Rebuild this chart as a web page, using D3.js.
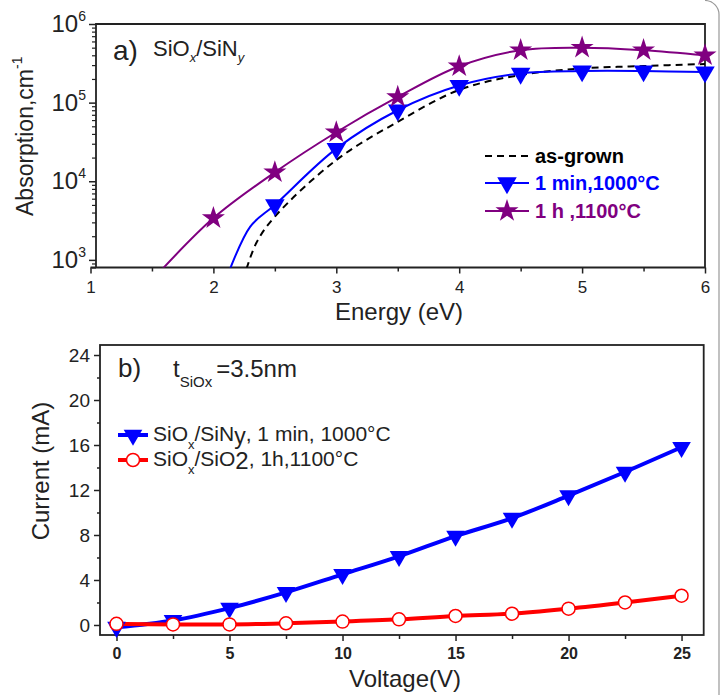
<!DOCTYPE html>
<html>
<head>
<meta charset="utf-8">
<script src="https://cdn.jsdelivr.net/npm/d3@7"></script>
<style>
  body { margin: 0; background: #fff; }
  svg { display: block; font-family: "Liberation Sans", Arial, sans-serif; }
</style>
</head>
<body>
<svg id="chart" width="724" height="695"></svg>
<script>
// ---- panel a: absorption vs energy (log scale) ----
const markerEnergy = [2, 2.5, 3, 3.5, 4, 4.5, 5, 5.5, 6];
const starAbs = [3400, 13000, 42000, 118000, 290000, 465000, 500000, 465000, 400000];
const triEnergy = [2.5, 3, 3.5, 4, 4.5, 5, 5.5, 6];
const triAbs = [5000, 26000, 80000, 165000, 235000, 252000, 252000, 245000];

// fitted curves (extend below the axis floor, clipped)
const purpleCurveE = [1.5, 2, 2.5, 3, 3.5, 4, 4.5, 5, 5.5, 6];
const purpleCurveA = [550, 3400, 13000, 42000, 118000, 290000, 465000, 500000, 465000, 400000];
const blueCurveE = [2.1, 2.3, 2.5, 3, 3.5, 4, 4.5, 5, 5.5, 6];
const blueCurveA = [550, 2650, 5000, 26000, 80000, 165000, 235000, 252000, 252000, 245000];
const blackCurveE = [2.24, 2.35, 2.5, 3, 3.5, 4, 4.5, 5, 5.5, 6];
const blackCurveA = [550, 1650, 3550, 18600, 57000, 145000, 225000, 272000, 292000, 310000];

const energyTicks = [1, 2, 3, 4, 5, 6];
const absDecades = [3, 4, 5, 6];

// ---- panel b: current vs voltage ----
const voltage = [0, 2.5, 5, 7.5, 10, 12.5, 15, 17.5, 20, 22.5, 25];
const currentSiN = [-0.2, 0.4, 1.5, 2.9, 4.5, 6.1, 7.9, 9.5, 11.5, 13.6, 15.8];
const currentSiO2 = [0.1, 0.05, 0.05, 0.15, 0.3, 0.5, 0.8, 1.0, 1.45, 2.0, 2.6];
const voltTicks = [0, 5, 10, 15, 20, 25];
const currentTicks = [0, 4, 8, 12, 16, 20, 24];

const svg = d3.select('#chart');
const ink = '#222';
const purple = '#800080';
const blue = '#0000ff';
const red = '#ff0000';

// outer frame corner on the right
svg.append('path')
  .attr('d', 'M705,0.5 A14,14 0 0 1 719,14.5 V695')
  .attr('fill', 'none')
  .attr('stroke', '#999')
  .attr('stroke-width', 1.2);

// ================= Panel a =================
const ax = d3.scaleLinear().domain([1, 6]).range([90.5, 705]);
const ay = d3.scaleLog().domain([800, 1e6]).range([267.5, 24]);
const aLeft = 96;

svg.append('clipPath').attr('id', 'clipA')
  .append('rect').attr('x', aLeft).attr('y', 24).attr('width', 705 - aLeft).attr('height', 267.5 - 24);

const gA = svg.append('g');

// minor x ticks
gA.append('g')
  .attr('transform', 'translate(0,267.5)')
  .call(d3.axisBottom(ax).tickValues(d3.range(1.5, 6, 1)).tickSize(4).tickFormat(''))
  .call(g => g.select('.domain').remove())
  .call(g => g.selectAll('line').attr('stroke', ink).attr('stroke-width', 1.5));
// major x ticks
gA.append('g')
  .attr('transform', 'translate(0,267.5)')
  .call(d3.axisBottom(ax).tickValues(energyTicks).tickSize(6).tickPadding(7).tickFormat(d3.format('d')))
  .call(g => g.select('.domain').remove())
  .call(g => g.selectAll('line').attr('stroke', ink).attr('stroke-width', 1.5))
  .call(g => g.selectAll('text').attr('font-size', 17).attr('fill', ink).attr('font-family', 'Liberation Sans'));

// y minor ticks
const minorA = ay.ticks().filter(v => Math.abs(Math.log10(v) - Math.round(Math.log10(v))) > 1e-6);
gA.append('g')
  .attr('transform', `translate(${aLeft},0)`)
  .call(d3.axisLeft(ay).tickValues(minorA).tickSize(4).tickFormat(''))
  .call(g => g.select('.domain').remove())
  .call(g => g.selectAll('line').attr('stroke', ink).attr('stroke-width', 1.2));
gA.append('g')
  .attr('transform', `translate(${aLeft},0)`)
  .call(d3.axisLeft(ay).tickValues(absDecades.map(p => Math.pow(10, p))).tickSize(7).tickFormat(''))
  .call(g => g.select('.domain').remove())
  .call(g => g.selectAll('line').attr('stroke', ink).attr('stroke-width', 1.5));

// 10^n labels
absDecades.forEach(p => {
  const t = gA.append('text')
    .attr('x', 86)
    .attr('y', ay(Math.pow(10, p)) + 8)
    .attr('text-anchor', 'end')
    .attr('font-size', 24)
    .attr('fill', ink);
  t.append('tspan').text('10');
  t.append('tspan').attr('font-size', 14).attr('dy', -11).text(p);
});

// frame
gA.append('path')
  .attr('d', `M${ax.range()[0]},267.5 H705 V24 H${aLeft} V267.5`)
  .attr('fill', 'none')
  .attr('stroke', ink)
  .attr('stroke-width', 1.8);

// curves
const lineA = d3.line().curve(d3.curveCatmullRom.alpha(0.5)).x(d => ax(d[0])).y(d => ay(d[1]));
const curves = gA.append('g').attr('clip-path', 'url(#clipA)');
curves.append('path')
  .datum(d3.zip(blackCurveE, blackCurveA))
  .attr('d', lineA).attr('fill', 'none').attr('stroke', '#000')
  .attr('stroke-width', 2).attr('stroke-dasharray', '7,5');
curves.append('path')
  .datum(d3.zip(blueCurveE, blueCurveA))
  .attr('d', lineA).attr('fill', 'none').attr('stroke', blue).attr('stroke-width', 2);
curves.append('path')
  .datum(d3.zip(purpleCurveE, purpleCurveA))
  .attr('d', lineA).attr('fill', 'none').attr('stroke', purple).attr('stroke-width', 2);

const starSym = d3.symbol().type(d3.symbolStar).size(165);
const triSym = d3.symbol().type(d3.symbolTriangle).size(165);

gA.append('g').selectAll('path')
  .data(d3.zip(triEnergy, triAbs))
  .join('path')
  .attr('d', triSym)
  .attr('transform', d => `translate(${ax(d[0])},${ay(d[1])}) rotate(180)`)
  .attr('fill', blue);
gA.append('g').selectAll('path')
  .data(d3.zip(markerEnergy, starAbs))
  .join('path')
  .attr('d', starSym)
  .attr('transform', d => `translate(${ax(d[0])},${ay(d[1])})`)
  .attr('fill', purple);

// axis titles
gA.append('text')
  .attr('x', 399).attr('y', 320)
  .attr('text-anchor', 'middle')
  .attr('font-size', 24).attr('fill', ink)
  .text('Energy (eV)');
const yTitleA = gA.append('text')
  .attr('transform', 'translate(33,216) rotate(-90)')
  .attr('font-size', 23).attr('fill', ink);
yTitleA.append('tspan').text('Absorption,cm');
yTitleA.append('tspan').attr('font-size', 14).attr('dy', -11).text('-1');

// panel label
gA.append('text').attr('x', 113).attr('y', 60).attr('font-size', 28).attr('fill', ink).text('a)');
const titleA = gA.append('text').attr('x', 153).attr('y', 56).attr('font-size', 22).attr('fill', ink);
titleA.append('tspan').text('SiO');
titleA.append('tspan').attr('font-size', 13).attr('font-style', 'italic').attr('dy', 6).text('x');
titleA.append('tspan').attr('dy', -6).text('/SiN');
titleA.append('tspan').attr('font-size', 13).attr('font-style', 'italic').attr('dy', 6).text('y');

// legend a
const legA = gA.append('g').attr('font-weight', 'bold').attr('font-size', 20);
legA.append('line').attr('x1', 485).attr('x2', 529).attr('y1', 156).attr('y2', 156)
  .attr('stroke', '#000').attr('stroke-width', 2).attr('stroke-dasharray', '7,5');
legA.append('text').attr('x', 535).attr('y', 163).attr('fill', '#000').text('as-grown');
legA.append('line').attr('x1', 485).attr('x2', 529).attr('y1', 183).attr('y2', 183)
  .attr('stroke', blue).attr('stroke-width', 2);
legA.append('path').attr('d', triSym).attr('transform', 'translate(507,183) rotate(180)').attr('fill', blue);
legA.append('text').attr('x', 535).attr('y', 190).attr('fill', blue).text('1 min,1000°C');
legA.append('line').attr('x1', 485).attr('x2', 529).attr('y1', 211).attr('y2', 211)
  .attr('stroke', purple).attr('stroke-width', 2);
legA.append('path').attr('d', starSym).attr('transform', 'translate(507,211)').attr('fill', purple);
legA.append('text').attr('x', 535).attr('y', 218).attr('fill', purple).text('1 h ,1100°C');

// ================= Panel b =================
const bx = d3.scaleLinear().domain([-0.73, 25.98]).range([100, 703.7]);
const by = d3.scaleLinear().domain([-0.89, 24.89]).range([635, 345]);
const gB = svg.append('g');

gB.append('g')
  .attr('transform', 'translate(0,635)')
  .call(d3.axisBottom(bx).tickValues(d3.range(2.5, 25, 5)).tickSize(4).tickFormat(''))
  .call(g => g.select('.domain').remove())
  .call(g => g.selectAll('line').attr('stroke', ink).attr('stroke-width', 1.5));
gB.append('g')
  .attr('transform', 'translate(0,635)')
  .call(d3.axisBottom(bx).tickValues(voltTicks).tickSize(6).tickPadding(7).tickFormat(d3.format('d')))
  .call(g => g.select('.domain').remove())
  .call(g => g.selectAll('line').attr('stroke', ink).attr('stroke-width', 1.5))
  .call(g => g.selectAll('text').attr('font-size', 16).attr('font-weight', 'bold')
    .attr('fill', ink).attr('font-family', 'Liberation Sans'));

gB.append('g')
  .attr('transform', 'translate(100,0)')
  .call(d3.axisLeft(by).tickValues(d3.range(2, 24, 4)).tickSize(3).tickFormat(''))
  .call(g => g.select('.domain').remove())
  .call(g => g.selectAll('line').attr('stroke', ink).attr('stroke-width', 1.5));
gB.append('g')
  .attr('transform', 'translate(100,0)')
  .call(d3.axisLeft(by).tickValues(currentTicks).tickSize(6).tickPadding(4).tickFormat(d3.format('d')))
  .call(g => g.select('.domain').remove())
  .call(g => g.selectAll('line').attr('stroke', ink).attr('stroke-width', 1.5))
  .call(g => g.selectAll('text').attr('font-size', 19).attr('fill', ink).attr('font-family', 'Liberation Sans'));

gB.append('rect')
  .attr('x', 100).attr('y', 345).attr('width', 603.7).attr('height', 290)
  .attr('fill', 'none').attr('stroke', ink).attr('stroke-width', 1.8);

const lineB = d3.line().curve(d3.curveMonotoneX).x(d => bx(d[0])).y(d => by(d[1]));
gB.append('path')
  .datum(d3.zip(voltage, currentSiN))
  .attr('d', lineB).attr('fill', 'none').attr('stroke', blue).attr('stroke-width', 4);
gB.append('path')
  .datum(d3.zip(voltage, currentSiO2))
  .attr('d', lineB).attr('fill', 'none').attr('stroke', red).attr('stroke-width', 4);

const triB = d3.symbol().type(d3.symbolTriangle).size(150);
gB.append('g').selectAll('path')
  .data(d3.zip(voltage, currentSiN))
  .join('path')
  .attr('d', triB)
  .attr('transform', d => `translate(${bx(d[0])},${by(d[1])}) rotate(180)`)
  .attr('fill', blue);
gB.append('g').selectAll('circle')
  .data(d3.zip(voltage, currentSiO2))
  .join('circle')
  .attr('cx', d => bx(d[0])).attr('cy', d => by(d[1])).attr('r', 6.5)
  .attr('fill', '#fff').attr('stroke', red).attr('stroke-width', 1.5);

// axis titles
gB.append('text')
  .attr('x', 405).attr('y', 687)
  .attr('text-anchor', 'middle')
  .attr('font-size', 24).attr('fill', ink)
  .text('Voltage(V)');
gB.append('text')
  .attr('transform', 'translate(49,471) rotate(-90)')
  .attr('text-anchor', 'middle')
  .attr('font-size', 24).attr('fill', ink)
  .text('Current (mA)');

// panel label
gB.append('text').attr('x', 118).attr('y', 377).attr('font-size', 26).attr('fill', ink).text('b)');
const thick = gB.append('text').attr('x', 173).attr('y', 377).attr('font-size', 24).attr('fill', ink);
thick.append('tspan').text('t');
thick.append('tspan').attr('font-size', 15).attr('dy', 10).text('SiOx');
thick.append('tspan').attr('dy', -10).attr('dx', 4).text('=3.5nm');

// legend b
const legB = gB.append('g').attr('font-size', 21).attr('fill', ink);
legB.append('line').attr('x1', 118).attr('x2', 148).attr('y1', 435).attr('y2', 435)
  .attr('stroke', blue).attr('stroke-width', 4);
legB.append('path').attr('d', triB).attr('transform', 'translate(133,435) rotate(180)').attr('fill', blue);
const l1 = legB.append('text').attr('x', 153).attr('y', 441);
l1.append('tspan').text('SiO');
l1.append('tspan').attr('font-size', 13).attr('dy', 8).text('x');
l1.append('tspan').attr('dy', -8).text('/SiN');
l1.append('tspan').attr('font-size', 23).attr('dy', 3).text('y');
l1.append('tspan').attr('dy', -3).text(', 1 min, 1000°C');

legB.append('line').attr('x1', 118).attr('x2', 148).attr('y1', 460).attr('y2', 460)
  .attr('stroke', red).attr('stroke-width', 4);
legB.append('circle').attr('cx', 133).attr('cy', 460).attr('r', 6.5)
  .attr('fill', '#fff').attr('stroke', red).attr('stroke-width', 1.5);
const l2 = legB.append('text').attr('x', 153).attr('y', 466);
l2.append('tspan').text('SiO');
l2.append('tspan').attr('font-size', 13).attr('dy', 8).text('x');
l2.append('tspan').attr('dy', -8).text('/SiO');
l2.append('tspan').attr('font-size', 24).attr('dy', 3).text('2');
l2.append('tspan').attr('dy', -3).text(', 1h,1100°C');
</script>
</body>
</html>
